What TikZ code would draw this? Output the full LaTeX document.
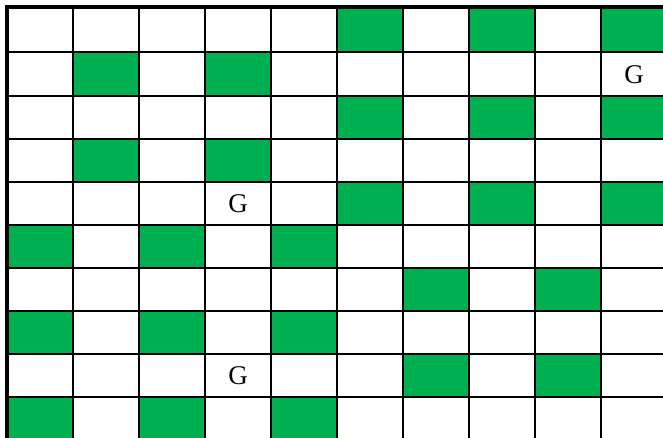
\documentclass[tikz,border=0pt]{standalone}
\usepackage{fontspec}
\setmainfont{Liberation Serif}
\definecolor{cellgreen}{HTML}{00B050}

\begin{document}
\begin{tikzpicture}[x=1pt, y=-1pt,
    cell/.style={fill=cellgreen},
    gridline/.style={draw=black, line width=2pt},
    frame/.style={draw=black, line width=3.5pt},
    goal/.style={font=\fontsize{27}{30}\selectfont, inner sep=0pt}
]
\useasboundingbox (0,0) rectangle (663,438);
\clip (0,0) rectangle (663,438);
% green cells, row by row
\foreach \ya/\yb/\cols in {7/52/{5,7,9}, 52/96/{1,3}, 96/139/{5,7,9}, 139/182/{1,3},
    182/225/{5,7,9}, 225/268/{0,2,4}, 268/311/{6,8}, 311/354/{0,2,4},
    354/397/{6,8}, 397/441/{0,2,4}}
  \foreach \c in \cols
    \fill[cell] ({7+66*\c},\ya) rectangle ({73+66*\c},\yb);
% grid lines
\foreach \y in {52,96,139,182,225,268,311,354,397}
  \draw[gridline] (7,\y) -- (670,\y);
\foreach \i in {1,...,9}
  \draw[gridline] ({7+66*\i},7) -- ({7+66*\i},445);
\draw[frame] (7,445) -- (7,7) -- (670,7);
% goals
\node[goal] (goalA) at (634,75) {G};
\node[goal] (goalB) at (238,204) {G};
\node[goal] (goalC) at (238,376) {G};
\end{tikzpicture}
\end{document}
